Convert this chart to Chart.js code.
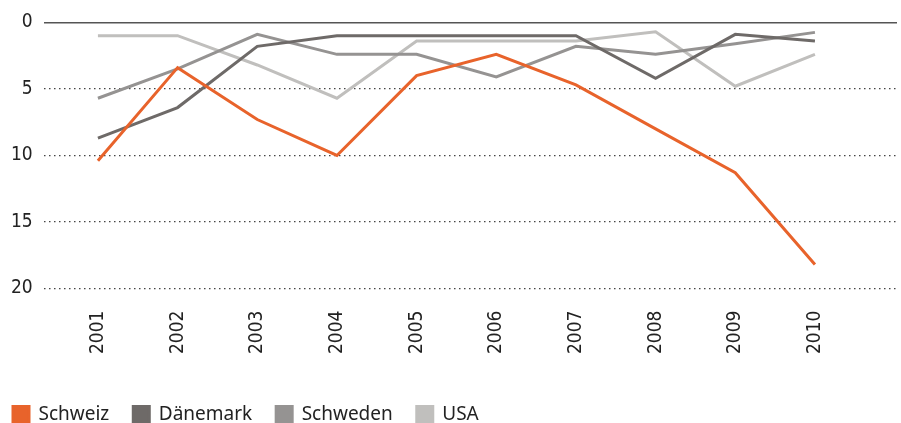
<!DOCTYPE html>
<html>
<head>
<meta charset="utf-8">
<script src="https://cdn.jsdelivr.net/npm/chart.js@4"></script>
<style>
  html, body { margin: 0; padding: 0; background: #fff; }
</style>
</head>
<body>
<canvas id="rankChart" width="901" height="423"></canvas>
<script>
const years = [2001, 2002, 2003, 2004, 2005, 2006, 2007, 2008, 2009, 2010];
const schweiz  = [10.4, 3.4, 7.3, 10.0, 4.0, 2.4, 4.7, 8.0, 11.3, 18.2];
const daenemark = [8.7, 6.4, 1.8, 1.0, 1.0, 1.0, 1.0, 4.2, 0.9, 1.4];
const schweden = [5.7, 3.5, 0.9, 2.4, 2.4, 4.1, 1.8, 2.4, 1.6, 0.75];
const usa      = [1.0, 1.0, 3.2, 5.7, 1.4, 1.4, 1.4, 0.7, 4.8, 2.4];
const yTicks = [0, 5, 10, 15, 20];

const tickFont = { family: "'DejaVu Sans Condensed', Roboto, sans-serif", size: 19 };

const pts = vals => vals.map((v, i) => ({ x: years[i], y: v }));
const line = (label, vals, color) => ({
  label, data: pts(vals), borderColor: color, backgroundColor: color,
  borderWidth: 3, pointRadius: 0, fill: false, tension: 0
});

// nudge the legend to the left edge and towards the bottom, like the original
const legendNudge = {
  id: 'legendNudge',
  afterLayout(chart) {
    const lg = chart.legend;
    lg.left -= 11; lg.right -= 11;
    lg.top += 13; lg.bottom += 13;
  }
};

const ctx = document.getElementById('rankChart').getContext('2d');
new Chart(ctx, {
  type: 'line',
  data: {
    datasets: [
      line('Schweiz', schweiz, '#e8632b'),
      line('Dänemark', daenemark, '#6e6a68'),
      line('Schweden', schweden, '#959392'),
      line('USA', usa, '#c0bfbd')
    ]
  },
  plugins: [legendNudge],
  options: {
    responsive: false,
    animation: false,
    layout: { padding: { left: 0, right: 4, top: 8, bottom: 2 } },
    plugins: {
      tooltip: { enabled: false },
      legend: {
        position: 'bottom',
        align: 'start',
        labels: {
          boxWidth: 16, boxHeight: 16, padding: 24,
          color: '#222',
          font: { family: 'Noto Sans', size: 19 }
        }
      }
    },
    scales: {
      x: {
        type: 'linear',
        min: 2000.32, max: 2011.03,
        afterBuildTicks: s => { s.ticks = years.map(v => ({ value: v })); },
        grid: { display: false },
        border: { display: false },
        ticks: {
          minRotation: 90, maxRotation: 90, padding: 14,
          color: '#222',
          font: tickFont,
          callback: v => String(v)
        }
      },
      y: {
        reverse: true,
        min: 0, max: 20,
        afterBuildTicks: s => { s.ticks = yTicks.map(v => ({ value: v })); },
        grid: {
          drawTicks: false,
          color: c => c.tick && c.tick.value === 0 ? '#555' : '#444',
          lineWidth: c => c.tick && c.tick.value === 0 ? 1.5 : 1.2
        },
        border: {
          display: false,
          dash: c => c.tick && c.tick.value === 0 ? [] : [1.5, 3.5]
        },
        ticks: {
          padding: 11,
          color: '#222',
          font: tickFont
        }
      }
    }
  }
});
</script>
</body>
</html>
